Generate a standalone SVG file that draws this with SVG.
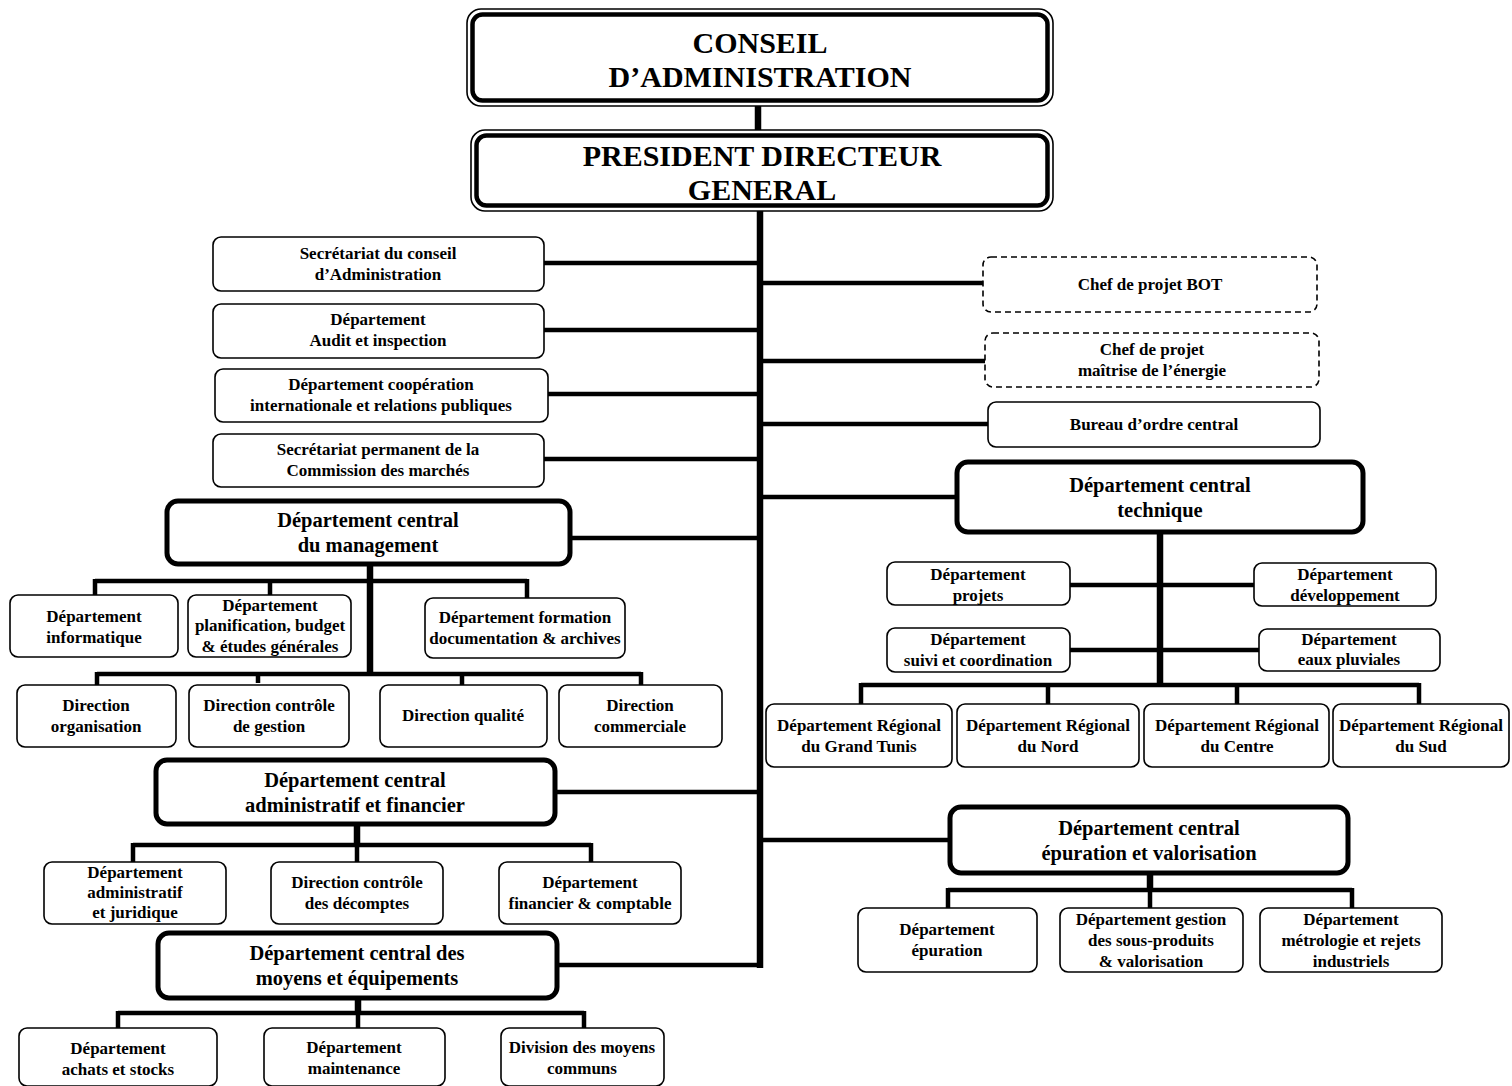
<svg xmlns="http://www.w3.org/2000/svg" width="1512" height="1086" viewBox="0 0 1512 1086">
<style>
.bg{fill:#fff}
.b{fill:#fff;stroke:#000;stroke-width:1.6}
.d{fill:#fff;stroke:#000;stroke-width:1.6;stroke-dasharray:6 4}
.c{fill:#fff;stroke:#000;stroke-width:5}
.o{fill:#fff;stroke:#000;stroke-width:1.6}
.oi{fill:none;stroke:#000;stroke-width:4.5}
.l{fill:none;stroke:#000;stroke-width:4.5}
.lt{fill:none;stroke:#000;stroke-width:6.5}
text{font-family:"Liberation Serif","Times New Roman",serif;font-weight:bold;text-anchor:middle;fill:#000}
.s{font-size:17px}
.m{font-size:20.5px}
.x{font-size:30px}
</style>
<rect class="bg" x="0" y="0" width="1512" height="1086"/>
<g id="connectors">
<path class="lt" d="M758 105V131"/>
<path class="lt" d="M760 211V968"/>
<path class="l" d="M544 263H760M544 330H760M548 394H760M544 459H760M570 538H760M555 792H760M557 965H760"/>
<path class="l" d="M760 283H983M760 361H985M760 424H988M760 497H957M760 840H950"/>
<path class="lt" d="M370 564V676"/>
<path class="l" d="M95 581H527M95 579V595M270 579V595M527 579V598M97 674H641M97 672V685M258 672V683M462 672V685M641 672V685"/>
<path class="lt" d="M357 824V847"/>
<path class="l" d="M133 845H591M133 843V862M357 845V862M591 843V862"/>
<path class="lt" d="M358 998V1015"/>
<path class="l" d="M118 1013H584M118 1011V1028M358 1013V1028M584 1011V1028"/>
<path class="lt" d="M1160 532V687"/>
<path class="l" d="M1070 585H1254M1070 650H1259M861 685H1419M861 683V704M1048 685V704M1237 685V704M1419 683V704"/>
<path class="lt" d="M1150 873V892"/>
<path class="l" d="M948 890H1352M948 888V908M1150 890V908M1352 888V908"/>
</g>
<g id="conseil">
<rect class="o" x="467" y="9" width="586" height="97" rx="14"/>
<rect class="oi" x="472.5" y="14.5" width="575" height="86" rx="10"/>
<text class="x" x="760" y="53">CONSEIL</text>
<text class="x" x="760" y="87">D’ADMINISTRATION</text>
</g>
<g id="pdg">
<rect class="o" x="471" y="130" width="582" height="81" rx="14"/>
<rect class="oi" x="476.5" y="135.5" width="571" height="70" rx="10"/>
<text class="x" x="762" y="166">PRESIDENT DIRECTEUR</text>
<text class="x" x="762" y="200">GENERAL</text>
</g>
<g id="secretariat-conseil">
<rect class="b" x="213" y="237" width="331" height="54" rx="8"/>
<text class="s" x="378" y="259">Secrétariat  du conseil</text>
<text class="s" x="378" y="280">d’Administration</text>
</g>
<g id="audit">
<rect class="b" x="213" y="304" width="331" height="54" rx="8"/>
<text class="s" x="378" y="325">Département</text>
<text class="s" x="378" y="346">Audit et inspection</text>
</g>
<g id="cooperation">
<rect class="b" x="215" y="369" width="333" height="53" rx="8"/>
<text class="s" x="381" y="390">Département coopération</text>
<text class="s" x="381" y="411">internationale et relations publiques</text>
</g>
<g id="secretariat-permanent">
<rect class="b" x="213" y="434" width="331" height="53" rx="8"/>
<text class="s" x="378" y="455">Secrétariat permanent de la</text>
<text class="s" x="378" y="476">Commission des marchés</text>
</g>
<g id="bot">
<rect class="d" x="983" y="257" width="334" height="55" rx="8"/>
<text class="s" x="1150" y="290">Chef de projet  BOT</text>
</g>
<g id="maitrise">
<rect class="d" x="985" y="333" width="334" height="54" rx="8"/>
<text class="s" x="1152" y="355">Chef de projet</text>
<text class="s" x="1152" y="376">maîtrise de l’énergie</text>
</g>
<g id="bureau">
<rect class="b" x="988" y="402" width="332" height="45" rx="8"/>
<text class="s" x="1154" y="430">Bureau d’ordre  central</text>
</g>
<g id="management">
<rect class="c" x="167" y="501" width="403" height="63" rx="11"/>
<text class="m" x="368" y="527">Département central</text>
<text class="m" x="368" y="552">du management</text>
</g>
<g id="informatique">
<rect class="b" x="10" y="595" width="168" height="62" rx="8"/>
<text class="s" x="94" y="622">Département</text>
<text class="s" x="94" y="643">informatique</text>
</g>
<g id="planification">
<rect class="b" x="188" y="595" width="163" height="62" rx="8"/>
<text class="s" x="270" y="611">Département</text>
<text class="s" x="270" y="631">planification, budget</text>
<text class="s" x="270" y="652">&amp; études  générales</text>
</g>
<g id="formation">
<rect class="b" x="425" y="598" width="200" height="60" rx="8"/>
<text class="s" x="525" y="623">Département formation</text>
<text class="s" x="525" y="644">documentation &amp; archives</text>
</g>
<g id="organisation">
<rect class="b" x="17" y="685" width="159" height="62" rx="8"/>
<text class="s" x="96" y="711">Direction</text>
<text class="s" x="96" y="732">organisation</text>
</g>
<g id="controle-gestion">
<rect class="b" x="189" y="685" width="160" height="62" rx="8"/>
<text class="s" x="269" y="711">Direction contrôle</text>
<text class="s" x="269" y="732">de gestion</text>
</g>
<g id="qualite">
<rect class="b" x="380" y="685" width="167" height="62" rx="8"/>
<text class="s" x="463" y="721">Direction qualité</text>
</g>
<g id="commerciale">
<rect class="b" x="559" y="685" width="163" height="62" rx="8"/>
<text class="s" x="640" y="711">Direction</text>
<text class="s" x="640" y="732">commerciale</text>
</g>
<g id="admin-fin">
<rect class="c" x="156" y="760" width="399" height="64" rx="11"/>
<text class="m" x="355" y="787">Département central</text>
<text class="m" x="355" y="812">administratif et financier</text>
</g>
<g id="administratif">
<rect class="b" x="44" y="862" width="182" height="62" rx="8"/>
<text class="s" x="135" y="878">Département</text>
<text class="s" x="135" y="898">administratif</text>
<text class="s" x="135" y="918">et juridique</text>
</g>
<g id="decomptes">
<rect class="b" x="271" y="862" width="172" height="62" rx="8"/>
<text class="s" x="357" y="888">Direction contrôle</text>
<text class="s" x="357" y="909">des décomptes</text>
</g>
<g id="financier">
<rect class="b" x="499" y="862" width="182" height="62" rx="8"/>
<text class="s" x="590" y="888">Département</text>
<text class="s" x="590" y="909">financier  &amp; comptable</text>
</g>
<g id="moyens">
<rect class="c" x="158" y="933" width="399" height="65" rx="11"/>
<text class="m" x="357" y="960">Département central des</text>
<text class="m" x="357" y="985">moyens et équipements</text>
</g>
<g id="achats">
<rect class="b" x="19" y="1028" width="198" height="58" rx="8"/>
<text class="s" x="118" y="1054">Département</text>
<text class="s" x="118" y="1075">achats et  stocks</text>
</g>
<g id="maintenance">
<rect class="b" x="264" y="1028" width="181" height="58" rx="8"/>
<text class="s" x="354" y="1053">Département</text>
<text class="s" x="354" y="1074">maintenance</text>
</g>
<g id="moyens-communs">
<rect class="b" x="501" y="1028" width="163" height="58" rx="8"/>
<text class="s" x="582" y="1053">Division des moyens</text>
<text class="s" x="582" y="1074">communs</text>
</g>
<g id="technique">
<rect class="c" x="957" y="462" width="406" height="70" rx="11"/>
<text class="m" x="1160" y="492">Département central</text>
<text class="m" x="1160" y="517">technique</text>
</g>
<g id="projets">
<rect class="b" x="887" y="562" width="183" height="43" rx="8"/>
<text class="s" x="978" y="580">Département</text>
<text class="s" x="978" y="601">projets</text>
</g>
<g id="developpement">
<rect class="b" x="1254" y="563" width="182" height="43" rx="8"/>
<text class="s" x="1345" y="580">Département</text>
<text class="s" x="1345" y="601">développement</text>
</g>
<g id="suivi">
<rect class="b" x="887" y="628" width="183" height="44" rx="8"/>
<text class="s" x="978" y="645">Département</text>
<text class="s" x="978" y="666">suivi et  coordination</text>
</g>
<g id="pluviales">
<rect class="b" x="1259" y="629" width="181" height="42" rx="8"/>
<text class="s" x="1349" y="645">Département</text>
<text class="s" x="1349" y="665">eaux pluviales</text>
</g>
<g id="grand-tunis">
<rect class="b" x="766" y="704" width="186" height="63" rx="8"/>
<text class="s" x="859" y="731">Département Régional</text>
<text class="s" x="859" y="752">du Grand Tunis</text>
</g>
<g id="nord">
<rect class="b" x="957" y="704" width="182" height="63" rx="8"/>
<text class="s" x="1048" y="731">Département Régional</text>
<text class="s" x="1048" y="752">du Nord</text>
</g>
<g id="centre">
<rect class="b" x="1144" y="704" width="185" height="63" rx="8"/>
<text class="s" x="1237" y="731">Département Régional</text>
<text class="s" x="1237" y="752">du Centre</text>
</g>
<g id="sud">
<rect class="b" x="1333" y="704" width="176" height="63" rx="8"/>
<text class="s" x="1421" y="731">Département Régional</text>
<text class="s" x="1421" y="752">du Sud</text>
</g>
<g id="epuration-valorisation">
<rect class="c" x="950" y="807" width="398" height="66" rx="11"/>
<text class="m" x="1149" y="835">Département central</text>
<text class="m" x="1149" y="860">épuration et valorisation</text>
</g>
<g id="epuration">
<rect class="b" x="858" y="908" width="179" height="64" rx="8"/>
<text class="s" x="947" y="935">Département</text>
<text class="s" x="947" y="956">épuration</text>
</g>
<g id="sous-produits">
<rect class="b" x="1060" y="908" width="183" height="64" rx="8"/>
<text class="s" x="1151" y="925">Département  gestion</text>
<text class="s" x="1151" y="946">des sous-produits</text>
<text class="s" x="1151" y="967">&amp; valorisation</text>
</g>
<g id="metrologie">
<rect class="b" x="1260" y="908" width="182" height="64" rx="8"/>
<text class="s" x="1351" y="925">Département</text>
<text class="s" x="1351" y="946">métrologie et rejets</text>
<text class="s" x="1351" y="967">industriels</text>
</g>
</svg>
